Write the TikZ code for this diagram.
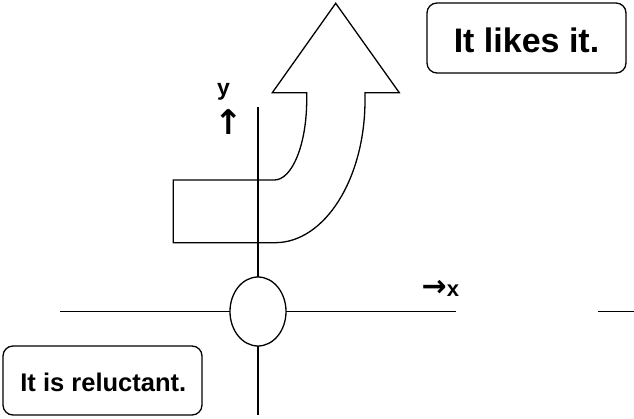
\documentclass[tikz,border=0pt]{standalone}
\usepackage{fontspec}
\setmainfont{Liberation Sans}
\newfontfamily\arrowfont{DejaVu Sans}
\usetikzlibrary{shapes.geometric}
\begin{document}
\begin{tikzpicture}[x=1pt,y=-1pt,line width=1.3pt,
  roundbox/.style={draw,rounded corners=10pt,inner sep=0pt,line width=1.3pt},
  lbl/.style={inner sep=0pt,font=\bfseries}]
\useasboundingbox (0,0) rectangle (634,419);
% axes
\coordinate (ytop) at (258,107);
\coordinate (ybot) at (258,415);
\coordinate (xl) at (60,311.5);
\coordinate (xr) at (456,311.5);
\coordinate (sl) at (598,311.5);
\coordinate (sr) at (634,311.5);
\draw (ytop) -- (ybot);
\draw (xl) -- (xr);
\draw (sl) -- (sr);
\node[draw,fill=white,ellipse,minimum width=56pt,minimum height=69pt,inner sep=0pt] (origin) at (258,311.5) {};
% bent arrow
\draw[line join=miter] (173.3,180) -- (274.3,180)
  .. controls (292.2,180) and (306.7,144.2) .. (306.7,100)
  -- (306.7,92.7) -- (272.3,92.7) -- (335.7,3.3) -- (399.3,92.7) -- (365,92.7) -- (365,100)
  .. controls (365,178.8) and (324.7,242.7) .. (275,242.7)
  -- (173.3,242.7) -- cycle;
% labels
\node[lbl,font=\bfseries\fontsize{23}{24}\selectfont] (ylab) at (223.5,92) {y};
\node[lbl,font=\arrowfont\bfseries\fontsize{34}{34}\selectfont] (yarr) at (229,122) {↑};
\node[lbl,font=\bfseries\fontsize{22}{24}\selectfont,anchor=base west] (xlab) at (421,297) {{\arrowfont\fontsize{30}{30}\selectfont→}x};
% boxes
\node[roundbox,minimum width=199pt,minimum height=70pt] (b1) at (526.5,38) {};
\node[lbl,font=\bfseries\fontsize{34}{40}\selectfont,anchor=base] (t1) at (526.5,52.3) {It likes it.};
\node[roundbox,minimum width=199pt,minimum height=69pt] (b2) at (102.5,380.5) {};
\node[lbl,font=\bfseries\fontsize{25.5}{30}\selectfont,anchor=base] (t2) at (103.3,391.7) {It is reluctant.};
\end{tikzpicture}
\end{document}
